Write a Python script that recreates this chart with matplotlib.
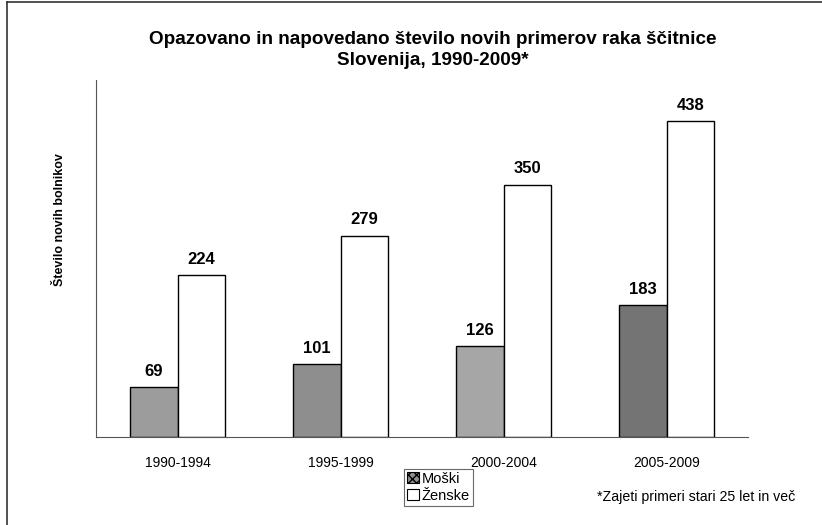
import matplotlib
matplotlib.use("Agg")
import matplotlib.pyplot as plt
from matplotlib.patches import Patch
from matplotlib.lines import Line2D

categories = ["1990-1994", "1995-1999", "2000-2004", "2005-2009"]
moski = [69, 101, 126, 183]
zenske = [224, 279, 350, 438]
series_names = ["Moški", "Ženske"]
title = "Opazovano in napovedano število novih primerov raka ščitnice\nSlovenija, 1990-2009*"
ylabel = "Število novih bolnikov"
footnote = "*Zajeti primeri stari 25 let in več"

plt.rcParams['font.family'] = ['Liberation Sans', 'DejaVu Sans']

fig = plt.figure(figsize=(8.22, 5.25), dpi=100)
ax = fig.add_axes([96/822, 1-437/525, (748-96)/822, (437-80)/525])

x = list(range(len(categories)))
w = 0.29
m_colors = ['#9c9c9c', '#8e8e8e', '#a6a6a6', '#747474']
bm = ax.bar([i - w/2 for i in x], moski, width=w, color=m_colors, edgecolor='black', linewidth=1.0)
bz = ax.bar([i + w/2 for i in x], zenske, width=w, color='white', edgecolor='black', linewidth=1.0)

for rects, vals in ((bm, moski), (bz, zenske)):
    for r, v in zip(rects, vals):
        ax.annotate(str(v), (r.get_x() + r.get_width()/2, v), xytext=(0, 6), textcoords='offset points',
                    ha='center', va='bottom', fontsize=12, fontweight='bold')

ax.set_xlim(-0.5, len(categories) - 0.5)
ax.set_ylim(0, 495)
ax.set_xticks(x)
ax.set_xticklabels(categories, fontsize=10)
ax.tick_params(axis='x', length=0, pad=14)
ax.set_yticks([])
for s in ('top', 'right'):
    ax.spines[s].set_visible(False)
ax.spines['left'].set_color('#555555')
ax.spines['left'].set_linewidth(0.8)
ax.spines['bottom'].set_color('#555555')
ax.spines['bottom'].set_linewidth(0.8)

fig.text(0.527, 1-31/525, title, ha='center', va='top', fontsize=13.6, fontweight='bold', linespacing=1.3)
fig.text(60/822, 1-220/525, ylabel, rotation=90, ha='center', va='center', fontsize=9, fontweight='bold')
fig.text(597/822, 1-497/525, footnote, ha='left', va='center', fontsize=10.2)

handles = [Patch(facecolor='#8e8e8e', edgecolor='black', hatch='xxxx', linewidth=0.8),
           Patch(facecolor='white', edgecolor='black', linewidth=0.8)]
leg = fig.legend(handles, series_names, loc='upper left', bbox_to_anchor=(404/822, 1-469/525),
                 fontsize=10.5, frameon=True, fancybox=False, edgecolor='#444444',
                 handlelength=0.8, handleheight=0.8, handletextpad=0.2, borderpad=0.2,
                 labelspacing=0.2, borderaxespad=0)
leg.get_frame().set_linewidth(0.8)

fig.add_artist(Line2D([7/822, 1], [1-2/525, 1-2/525], transform=fig.transFigure, color='#333333', linewidth=1.2))
fig.add_artist(Line2D([7/822, 7/822], [0, 1-2/525], transform=fig.transFigure, color='#333333', linewidth=1.2))

fig.savefig("out.png", dpi=100)
